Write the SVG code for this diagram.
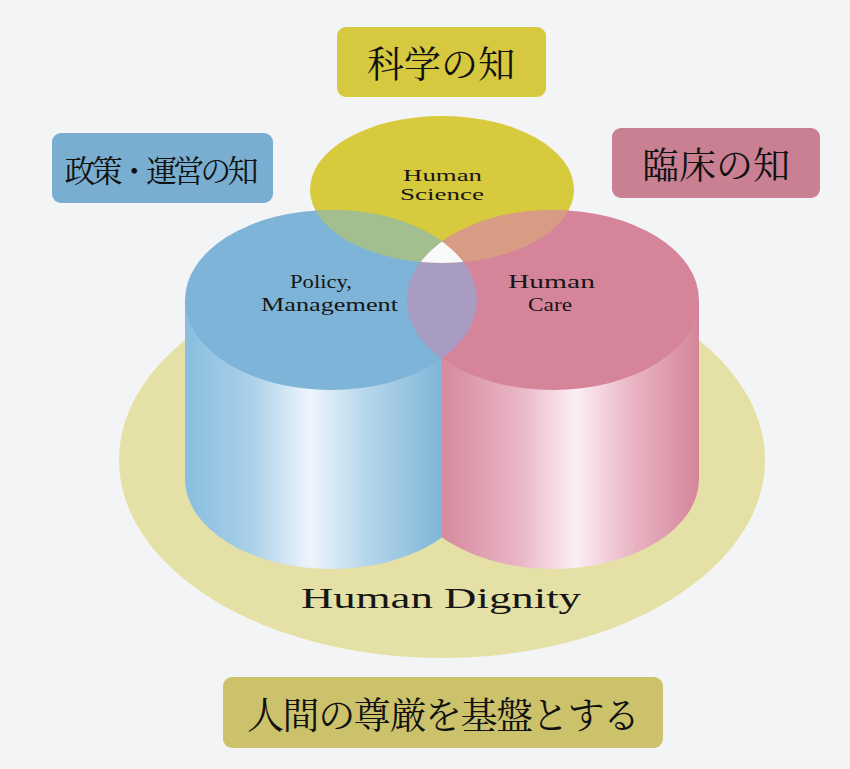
<svg xmlns="http://www.w3.org/2000/svg" width="850" height="769" viewBox="0 0 850 769">
<style>
.jp{font-family:"Noto Serif CJK JP","Noto Sans CJK JP",serif;fill:#111;}
.en{font-family:"Liberation Serif","Times New Roman",serif;fill:#161616;}
</style>
<defs>
<linearGradient id="gBlue" gradientUnits="userSpaceOnUse" x1="185" y1="0" x2="477" y2="0">
<stop offset="0" stop-color="#89bedf"/>
<stop offset="0.22" stop-color="#a8d0e9"/>
<stop offset="0.43" stop-color="#eef5fc"/>
<stop offset="0.62" stop-color="#b6d7eb"/>
<stop offset="0.88" stop-color="#80b6d8"/>
<stop offset="1" stop-color="#7ab2d6"/>
</linearGradient>
<linearGradient id="gPink" gradientUnits="userSpaceOnUse" x1="407" y1="0" x2="699" y2="0">
<stop offset="0" stop-color="#d5879b"/>
<stop offset="0.12" stop-color="#d68a9e"/>
<stop offset="0.38" stop-color="#e9b5c5"/>
<stop offset="0.58" stop-color="#fbeef4"/>
<stop offset="0.78" stop-color="#e9b3c3"/>
<stop offset="1" stop-color="#d4859a"/>
</linearGradient>
<clipPath id="cLeft"><rect x="0" y="0" width="442" height="769"/></clipPath>
<clipPath id="cRight"><rect x="442" y="0" width="408" height="769"/></clipPath>
<clipPath id="cBlueTop"><ellipse cx="331" cy="300" rx="146" ry="90"/></clipPath>
<clipPath id="cPinkTop"><ellipse cx="553" cy="300" rx="146" ry="90"/></clipPath>
</defs>
<rect x="0" y="0" width="850" height="769" fill="#f3f4f6"/>

<g id="base">
<ellipse cx="442" cy="460" rx="323" ry="198" fill="#e5e1a6"/>
<text class="en" x="441" y="608" font-size="30" text-anchor="middle" textLength="280" lengthAdjust="spacingAndGlyphs">Human Dignity</text>
</g>

<g id="policy-cylinder">
<path d="M185,300 L185,479 A146,90 0 0 0 477,479 L477,300 Z" fill="url(#gBlue)" clip-path="url(#cLeft)"/>
</g>
<g id="care-cylinder">
<path d="M407,300 L407,479 A146,90 0 0 0 699,479 L699,300 Z" fill="url(#gPink)" clip-path="url(#cRight)"/>
</g>

<g id="science">
<ellipse cx="442" cy="189.5" rx="132" ry="73.5" fill="#d8ca3d"/>
</g>
<g id="policy-top">
<ellipse cx="331" cy="300" rx="146" ry="90" fill="#7db4d8"/>
</g>
<g id="care-top">
<ellipse cx="553" cy="300" rx="146" ry="90" fill="#d6849a"/>
</g>
<g id="overlaps">
<ellipse cx="553" cy="300" rx="146" ry="90" fill="#a89cc2" clip-path="url(#cBlueTop)"/>
<ellipse cx="442" cy="189.5" rx="132" ry="73.5" fill="#a3be8f" clip-path="url(#cBlueTop)"/>
<ellipse cx="442" cy="189.5" rx="132" ry="73.5" fill="#d89c84" clip-path="url(#cPinkTop)"/>
<g clip-path="url(#cBlueTop)">
<ellipse cx="442" cy="189.5" rx="132" ry="73.5" fill="#f8f9fa" clip-path="url(#cPinkTop)"/>
</g>
</g>

<g id="labels">
<text class="en" x="442.5" y="181" font-size="16.5" text-anchor="middle" textLength="79" lengthAdjust="spacingAndGlyphs">Human</text>
<text class="en" x="442" y="200" font-size="16.5" text-anchor="middle" textLength="84" lengthAdjust="spacingAndGlyphs">Science</text>
<text class="en" x="321" y="288" font-size="19" text-anchor="middle" textLength="62" lengthAdjust="spacingAndGlyphs">Policy,</text>
<text class="en" x="329.5" y="311" font-size="19" text-anchor="middle" textLength="137" lengthAdjust="spacingAndGlyphs">Management</text>
<text class="en" x="551.5" y="288" font-size="19" text-anchor="middle" textLength="87" lengthAdjust="spacingAndGlyphs">Human</text>
<text class="en" x="550" y="311" font-size="19" text-anchor="middle" textLength="44" lengthAdjust="spacingAndGlyphs">Care</text>
</g>

<g id="box-science">
<rect x="337" y="27" width="209" height="70" rx="9" fill="#d6c83f"/>
<text class="jp" x="441" y="62" font-size="37" text-anchor="middle" dominant-baseline="central">科学の知</text>
</g>
<g id="box-policy">
<rect x="52" y="133" width="221" height="70" rx="9" fill="#7aaed0"/>
<text class="jp" x="161.5" y="168" font-size="31" text-anchor="middle" dominant-baseline="central" textLength="194" lengthAdjust="spacing">政策・運営の知</text>
</g>
<g id="box-clinical">
<rect x="612" y="128" width="208" height="70" rx="9" fill="#c98092"/>
<text class="jp" x="716" y="163" font-size="37" text-anchor="middle" dominant-baseline="central">臨床の知</text>
</g>
<g id="box-dignity">
<rect x="223" y="677" width="440" height="71" rx="9" fill="#cdc26c"/>
<text class="jp" x="443.5" y="712.5" font-size="37" text-anchor="middle" dominant-baseline="central" textLength="393" lengthAdjust="spacing">人間の尊厳を基盤とする</text>
</g>
</svg>
